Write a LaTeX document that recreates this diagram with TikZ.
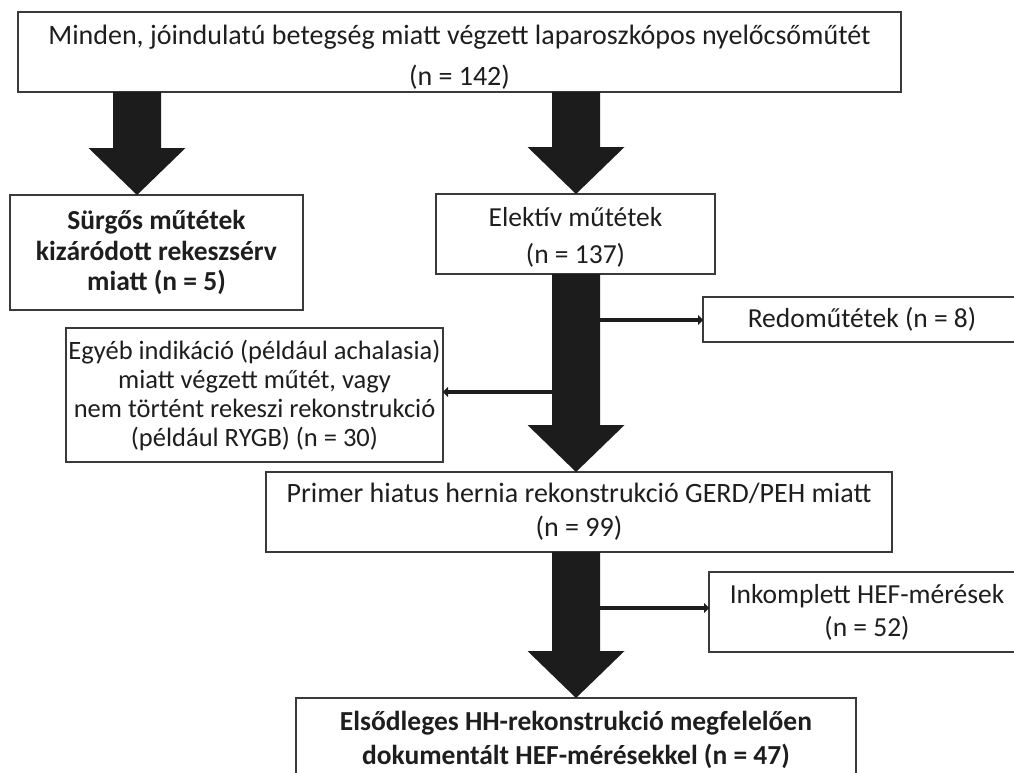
\documentclass[tikz,border=0pt]{standalone}
\usepackage{fontspec}
\setmainfont{Carlito}
\usetikzlibrary{arrows.meta,calc}
\definecolor{boxline}{HTML}{3A3A3A}
\definecolor{arrfill}{HTML}{1C1C1C}
\definecolor{txt}{HTML}{1E1E1E}
\tikzset{
  box/.style={draw=boxline, line width=1.3pt, fill=white, text=txt, align=center, inner sep=0pt, outer sep=0pt},
  fatarr/.style={fill=arrfill},
  thinarr/.style={draw=arrfill, line width=4.5pt, -{Triangle[length=5pt,width=10pt]}}
}
\newcommand\fatarrow[2]{%
  \fill[fatarr] ($(#1)+(-24,0)$) -- ($(#2)+(-24,-47)$) -- ($(#2)+(-48.5,-47)$) -- (#2)
    -- ($(#2)+(48.5,-47)$) -- ($(#2)+(24,-47)$) -- ($(#1)+(24,0)$) -- cycle;}
\begin{document}
\begin{tikzpicture}[x=1pt,y=-1pt]
\useasboundingbox (0,0) rectangle (1014,773);
\clip (0,0) rectangle (1014,773);
\fill[white] (0,0) rectangle (1014,773);
% boxes
\node[box, minimum width=883pt, minimum height=80pt, font=\fontsize{28}{41}\selectfont] (top) at (459.5,52)
  {\rule{0pt}{30pt}Minden, jóindulatú betegség miatt végzett laparoszkópos nyelőcsőműtét\\(n = 142)};
\node[box, minimum width=293pt, minimum height=115pt, font=\fontsize{27.5}{30.5}\selectfont\bfseries] (surgos) at (156.5,252.5)
  {Sürgős műtétek\\kizáródott rekeszsérv\\miatt (n = 5)};
\node[box, minimum width=279pt, minimum height=80pt, font=\fontsize{27.5}{37}\selectfont] (elektiv) at (575.5,234)
  {\rule{0pt}{26pt}Elektív műtétek\\(n = 137)};
\node[box, minimum width=318pt, minimum height=45pt, font=\fontsize{27.5}{30}\selectfont] (redo) at (862,319.5)
  {Redoműtétek (n = 8)};
\node[box, minimum width=377pt, minimum height=134pt, font=\fontsize{26.5}{29}\selectfont] (egyeb) at (254.5,395)
  {Egyéb indikáció (például achalasia)\\miatt végzett műtét, vagy\\nem történt rekeszi rekonstrukció\\(például RYGB) (n = 30)};
\node[box, minimum width=626pt, minimum height=80pt, font=\fontsize{28}{34}\selectfont] (primer) at (579,512)
  {Primer hiatus hernia rekonstrukció GERD/PEH miatt\\(n = 99)};
\node[box, minimum width=316pt, minimum height=80pt, font=\fontsize{27.5}{33}\selectfont] (inkomp) at (867,612)
  {Inkomplett HEF-mérések\\(n = 52)};
\node[box, anchor=north, minimum width=560pt, minimum height=84pt, font=\fontsize{27.5}{34}\selectfont\bfseries] (elso) at (576,698)
  {Elsődleges HH-rekonstrukció megfelelően\\dokumentált HEF-mérésekkel (n = 47)};
% arrow axes
\coordinate (ax1) at (137,0);
\coordinate (ax2) at (576,0);
\coordinate (a1s) at (top.south -| ax1);
\coordinate (a1e) at (surgos.north -| ax1);
\coordinate (a2s) at (top.south -| ax2);
\coordinate (a2e) at (elektiv.north -| ax2);
\coordinate (a3s) at (elektiv.south -| ax2);
\coordinate (a3e) at (primer.north -| ax2);
\coordinate (a4s) at (primer.south -| ax2);
\coordinate (a4e) at (elso.north -| ax2);
\fatarrow{a1s}{a1e}
\fatarrow{a2s}{a2e}
\fatarrow{a3s}{a3e}
\fatarrow{a4s}{a4e}
% side arrows
\coordinate (r1) at ($(a3s)+(23,46)$);
\coordinate (l1) at ($(a3s)+(-23,118)$);
\coordinate (r2) at ($(a4s)+(23,56)$);
\draw[thinarr] (r1) -- (r1 -| redo.west);
\draw[thinarr] (l1) -- (l1 -| egyeb.east);
\draw[thinarr] (r2) -- (r2 -| inkomp.west);
\end{tikzpicture}
\end{document}
